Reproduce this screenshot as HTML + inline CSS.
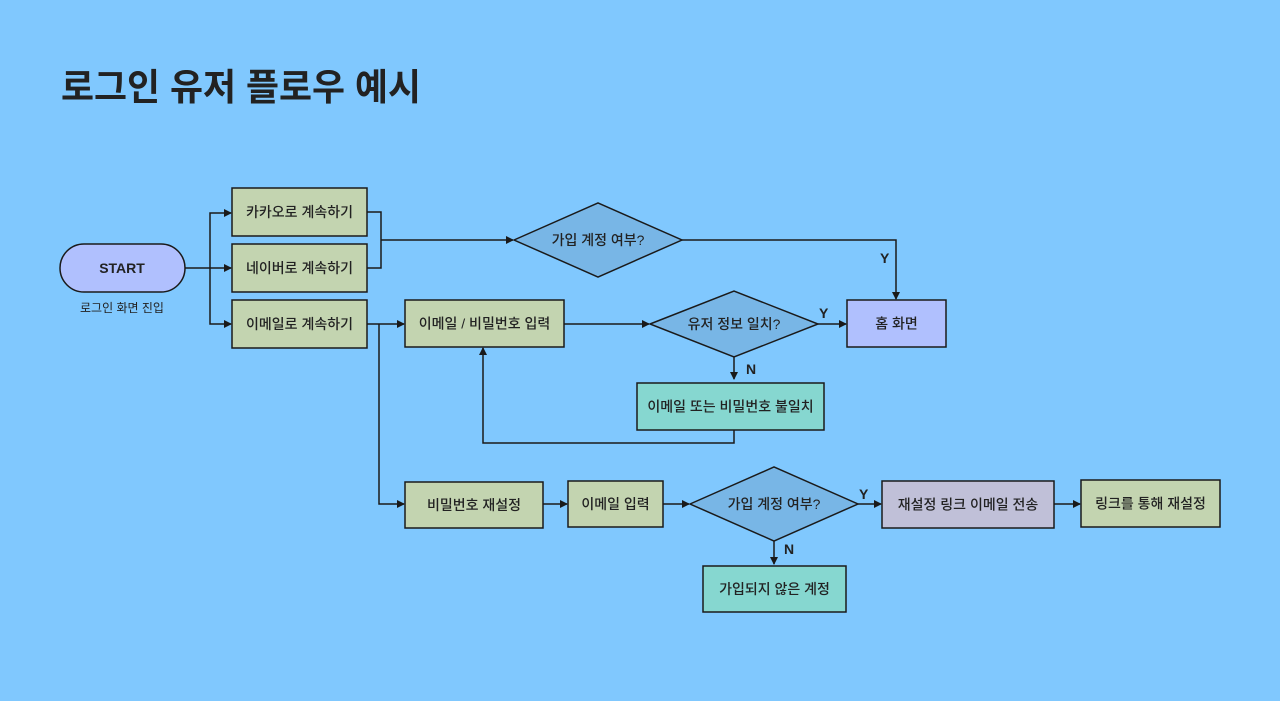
<!DOCTYPE html>
<html><head><meta charset="utf-8"><style>
html,body{margin:0;padding:0;background:#80c8fe;}
svg{display:block;}
text{font-family:"Liberation Sans","Noto Sans CJK KR",sans-serif;fill:#222;}
.t{font-size:14px;font-weight:500;text-anchor:middle;dominant-baseline:central;}
.l{font-size:14px;font-weight:bold;}
.ln{stroke:#1a1a1a;stroke-width:1.5;fill:none;}
.bx{stroke:#1a1a1a;stroke-width:1.5;}
</style></head><body>
<svg width="1280" height="701" viewBox="0 0 1280 701" xmlns="http://www.w3.org/2000/svg">
<defs><marker id="a" markerWidth="8" markerHeight="8" refX="7" refY="4" orient="auto" markerUnits="userSpaceOnUse"><path d="M0,0 L8,4 L0,8 z" fill="#1a1a1a"/></marker></defs>
<text x="61" y="100" font-size="37" font-weight="bold" textLength="360" lengthAdjust="spacingAndGlyphs">로그인 유저 플로우 예시</text>

<!-- connectors -->
<path class="ln" d="M185,268 H210"/>
<path class="ln" d="M210,268 V213 H231" marker-end="url(#a)"/>
<path class="ln" d="M210,268 H231" marker-end="url(#a)"/>
<path class="ln" d="M210,268 V324 H231" marker-end="url(#a)"/>
<path class="ln" d="M367,212 H381 V268 H367"/>
<path class="ln" d="M381,240 H513" marker-end="url(#a)"/>
<path class="ln" d="M682,240 H896 V299" marker-end="url(#a)"/>
<path class="ln" d="M367,324 H404" marker-end="url(#a)"/>
<path class="ln" d="M379,324 V504 H404" marker-end="url(#a)"/>
<path class="ln" d="M564,324 H649" marker-end="url(#a)"/>
<path class="ln" d="M818,324 H846" marker-end="url(#a)"/>
<path class="ln" d="M734,357 V379" marker-end="url(#a)"/>
<path class="ln" d="M734,430 V443 H483 V348" marker-end="url(#a)"/>
<path class="ln" d="M543,504 H567" marker-end="url(#a)"/>
<path class="ln" d="M663,504 H689" marker-end="url(#a)"/>
<path class="ln" d="M858,504 H881" marker-end="url(#a)"/>
<path class="ln" d="M1054,504 H1080" marker-end="url(#a)"/>
<path class="ln" d="M774,541 V564" marker-end="url(#a)"/>

<!-- start -->
<rect class="bx" x="60" y="244" width="125" height="48" rx="24" fill="#b0c0fe"/>
<text class="t" x="122" y="268" font-weight="bold" style="font-weight:bold">START</text>
<text x="122" y="308" font-size="12" text-anchor="middle" dominant-baseline="central">로그인 화면 진입</text>

<rect class="bx" x="232" y="188" width="135" height="48" fill="#c3d4b0"/>
<text class="t" x="299.5" y="212">카카오로 계속하기</text>
<rect class="bx" x="232" y="244" width="135" height="48" fill="#c3d4b0"/>
<text class="t" x="299.5" y="268">네이버로 계속하기</text>
<rect class="bx" x="232" y="300" width="135" height="48" fill="#c3d4b0"/>
<text class="t" x="299.5" y="324">이메일로 계속하기</text>

<polygon class="bx" points="514,240 598,203 682,240 598,277" fill="#78b6e6"/>
<text class="t" x="598" y="240">가입 계정 여부?</text>
<text class="l" x="880" y="263">Y</text>

<rect class="bx" x="405" y="300" width="159" height="47" fill="#c3d4b0"/>
<text class="t" x="484.5" y="323.5">이메일 / 비밀번호 입력</text>

<polygon class="bx" points="650,324 734,291 818,324 734,357" fill="#78b6e6"/>
<text class="t" x="734" y="324">유저 정보 일치?</text>
<text class="l" x="819" y="318">Y</text>
<text class="l" x="746" y="374">N</text>

<rect class="bx" x="847" y="300" width="99" height="47" fill="#b0c0fe"/>
<text class="t" x="896.5" y="323.5">홈 화면</text>

<rect class="bx" x="637" y="383" width="187" height="47" fill="#86d7d0"/>
<text class="t" x="730.5" y="406.5">이메일 또는 비밀번호 불일치</text>

<rect class="bx" x="405" y="482" width="138" height="46" fill="#c3d4b0"/>
<text class="t" x="474" y="505">비밀번호 재설정</text>
<rect class="bx" x="568" y="481" width="95" height="46" fill="#c3d4b0"/>
<text class="t" x="615.5" y="504">이메일 입력</text>

<polygon class="bx" points="690,504 774,467 858,504 774,541" fill="#78b6e6"/>
<text class="t" x="774" y="504">가입 계정 여부?</text>
<text class="l" x="859" y="499">Y</text>
<text class="l" x="784" y="554">N</text>

<rect class="bx" x="882" y="481" width="172" height="47" fill="#c0c0d8"/>
<text class="t" x="968" y="504.5">재설정 링크 이메일 전송</text>
<rect class="bx" x="1081" y="480" width="139" height="47" fill="#c3d4b0"/>
<text class="t" x="1150.5" y="503.5">링크를 통해 재설정</text>

<rect class="bx" x="703" y="566" width="143" height="46" fill="#86d7d0"/>
<text class="t" x="774.5" y="589">가입되지 않은 계정</text>
</svg>
</body></html>
